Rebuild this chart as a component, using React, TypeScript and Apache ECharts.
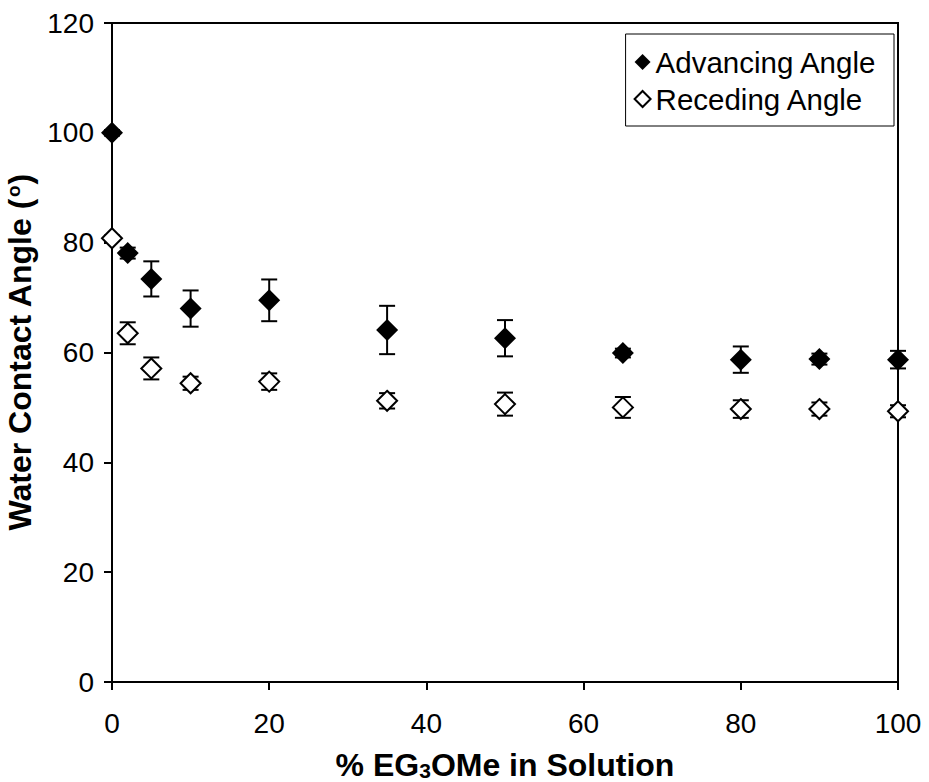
import React, { useEffect, useRef } from "react";
import * as echarts from "echarts";

const xValues = [0, 2, 5, 10, 20, 35, 50, 65, 80, 90, 100];
const advancing = [100, 78.1, 73.4, 68.0, 69.5, 64.1, 62.6, 59.9, 58.7, 58.8, 58.7];
const advancingErr = [0.5, 1.0, 3.2, 3.3, 3.8, 4.4, 3.3, 0.8, 2.4, 1.0, 1.6];
const receding = [80.8, 63.5, 57.1, 54.4, 54.7, 51.2, 50.6, 50.0, 49.7, 49.7, 49.3];
const recedingErr = [0.5, 2.0, 2.0, 1.2, 1.5, 1.4, 2.1, 1.9, 1.6, 1.2, 1.1];
const xTicks = { min: 0, max: 100, interval: 20 };
const yTicks = { min: 0, max: 120, interval: 20 };

const FONT = "Liberation Sans, Arial, sans-serif";

function errorSeries(name: string, ys: number[], errs: number[]) {
  return {
    type: "custom",
    name: name + " error",
    z: 1,
    clip: false,
    silent: true,
    data: xValues.map((x, i) => [x, ys[i], errs[i]]),
    encode: { x: 0, y: 1 },
    renderItem: (params: any, api: any) => {
      const x = api.value(0);
      const y = api.value(1);
      const e = api.value(2);
      const hi = api.coord([x, y + e]);
      const lo = api.coord([x, y - e]);
      const hw = 8;
      const style = { stroke: "#000", lineWidth: 2 };
      return {
        type: "group",
        children: [
          { type: "line", shape: { x1: hi[0], y1: hi[1], x2: lo[0], y2: lo[1] }, style },
          { type: "line", shape: { x1: hi[0] - hw, y1: hi[1], x2: hi[0] + hw, y2: hi[1] }, style },
          { type: "line", shape: { x1: lo[0] - hw, y1: lo[1], x2: lo[0] + hw, y2: lo[1] }, style },
        ],
      };
    },
  };
}

export default function App() {
  const ref = useRef<HTMLDivElement>(null);
  useEffect(() => {
    if (!ref.current) return;
    const chart = echarts.init(ref.current, undefined, { renderer: "svg" });
    chart.setOption({
      animation: false,
      backgroundColor: "#fff",
      textStyle: { fontFamily: FONT },
      grid: {
        left: 112,
        top: 23,
        right: 31,
        bottom: 100,
        show: true,
        borderColor: "#000",
        borderWidth: 2,
        containLabel: false,
        outerBoundsMode: "none",
      },
      legend: {
        orient: "vertical",
        right: 35,
        top: 34,
        padding: [13, 17, 12, 8],
        itemGap: 7,
        itemWidth: 16,
        itemHeight: 16,
        backgroundColor: "#fff",
        borderColor: "#000",
        borderWidth: 1,
        textStyle: { fontSize: 29.5, color: "#000", fontFamily: FONT },
        data: [
          { name: "Advancing Angle", icon: "diamond" },
          { name: "Receding Angle", icon: "diamond" },
        ],
      },
      xAxis: {
        type: "value",
        min: xTicks.min,
        max: xTicks.max,
        interval: xTicks.interval,
        name: "% EG{sub|3}OMe in Solution",
        nameLocation: "middle",
        nameGap: 67,
        nameTextStyle: {
          fontSize: 32,
          lineHeight: 32,
          fontWeight: "bold",
          color: "#000",
          fontFamily: FONT,
          rich: {
            sub: {
              fontSize: 21,
              lineHeight: 32,
              fontWeight: "bold",
              color: "#000",
              fontFamily: FONT,
              verticalAlign: "bottom",
            },
          },
        },
        axisLine: { show: true, lineStyle: { color: "#000", width: 2 } },
        axisTick: { show: true, inside: false, length: 8, lineStyle: { color: "#000", width: 2 } },
        axisLabel: { fontSize: 28, color: "#000", margin: 27, fontFamily: FONT },
        splitLine: { show: false },
      },
      yAxis: {
        type: "value",
        min: yTicks.min,
        max: yTicks.max,
        interval: yTicks.interval,
        name: "Water Contact Angle ({sup|o})",
        nameLocation: "middle",
        nameGap: 70,
        nameTextStyle: {
          fontSize: 32,
          fontWeight: "bold",
          color: "#000",
          fontFamily: FONT,
          rich: {
            sup: {
              fontSize: 19,
              fontWeight: "bold",
              color: "#000",
              fontFamily: FONT,
              verticalAlign: "top",
              padding: [0, 1, 8, 1],
            },
          },
        },
        axisLine: { show: true, lineStyle: { color: "#000", width: 2 } },
        axisTick: { show: true, inside: false, length: 8, lineStyle: { color: "#000", width: 2 } },
        axisLabel: { fontSize: 28, color: "#000", margin: 18, fontFamily: FONT },
        splitLine: { show: false },
      },
      series: [
        {
          type: "scatter",
          name: "Advancing Angle",
          symbol: "diamond",
          symbolSize: 22,
          clip: false,
          z: 3,
          itemStyle: { color: "#000", opacity: 1 },
          data: xValues.map((x, i) => [x, advancing[i]]),
        },
        {
          type: "scatter",
          name: "Receding Angle",
          symbol: "diamond",
          symbolSize: 20,
          clip: false,
          z: 3,
          itemStyle: { color: "#fff", borderColor: "#000", borderWidth: 2, opacity: 1 },
          data: xValues.map((x, i) => [x, receding[i]]),
        },
        errorSeries("Advancing Angle", advancing, advancingErr),
        errorSeries("Receding Angle", receding, recedingErr),
      ],
    });
    return () => chart.dispose();
  }, []);
  return (
    <div
      ref={ref}
      style={{ position: "fixed", left: 0, top: 0, width: 929, height: 782 }}
    />
  );
}
